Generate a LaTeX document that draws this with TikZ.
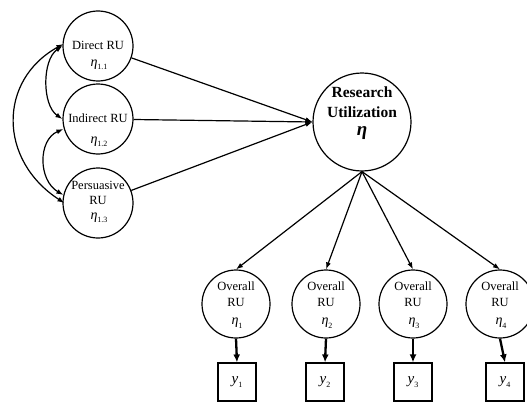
\documentclass[tikz,border=0pt]{standalone}
\usepackage{fontspec}
\setmainfont{Liberation Serif}
\usetikzlibrary{arrows.meta,calc}
% italic eta with a small subscript, set in the text font
\newcommand{\etasub}[1]{{\itshape η}\raisebox{-0.25em}{\fontsize{8}{8}\selectfont #1}}
\begin{document}
\begin{tikzpicture}[x=1pt,y=-1pt,
  lat/.style={draw,circle,line width=1.2pt,minimum size=70pt,inner sep=0pt},
  bigLat/.style={draw,circle,line width=1.2pt,minimum size=98pt,inner sep=0pt},
  obs/.style={draw,rectangle,line width=1.2pt,minimum width=38pt,minimum height=38pt,inner sep=0pt},
  lbl/.style={font=\fontsize{12.5}{12.5}\selectfont,inner sep=0pt},
  elbl/.style={font=\fontsize{14}{14}\selectfont,inner sep=0pt},
  blbl/.style={font=\fontsize{15.5}{15.5}\selectfont\bfseries,inner sep=0pt},
  path/.style={line width=1.2pt,-{Latex[length=7pt,width=5pt]}},
  cov/.style={line width=1.2pt,{Latex[length=7pt,width=5pt]}-{Latex[length=7pt,width=5pt]}},
  load/.style={line width=2.3pt,-{Latex[length=8pt,width=7pt]}}]
\useasboundingbox (0,0) rectangle (527,404);

% first-order factors on the left
\node[lat] (d) at (98,46) {};
\node[lat] (i) at (98,119) {};
\node[lat] (p) at (98,203) {};
\node[lbl] (dt) at (98,45) {Direct RU};
\node[elbl] (de) at (99,65) {\etasub{1.1}};
\node[lbl] (it) at (98,118) {Indirect RU};
\node[elbl] (ie) at (99,142) {\etasub{1.2}};
\node[lbl] (pt1) at (98,185) {Persuasive};
\node[lbl] (pt2) at (98,200) {RU};
\node[elbl] (pe) at (99,218) {\etasub{1.3}};

% second-order factor
\node[bigLat] (r) at (362,122) {};
\node[blbl] (rt1) at (362,92) {Research};
\node[blbl] (rt2) at (362,112) {Utilization};
\node[font=\fontsize{19}{19}\selectfont\bfseries\itshape,inner sep=0pt] (re) at (362,133) {η};

% overall RU factors and indicators
\foreach \n/\x/\bx in {1/236/237, 2/326/325, 3/413/413, 4/500/505} {
  \node[lat,minimum size=68pt] (o\n) at (\x,304) {};
  \node[lbl] (ot\n) at (\x,286) {Overall};
  \node[lbl] (ou\n) at (\x,302) {RU};
  \node[elbl] (oe\n) at (\x+1,323) {\etasub{\n}};
  \node[obs] (y\n) at (\bx,382) {\fontsize{15}{15}\selectfont\itshape y\raisebox{-0.25em}{\upshape\fontsize{8}{8}\selectfont\n}};
}

% paths into the second-order factor
\draw[path] (d) -- (r.west);
\draw[path] (i) -- (r.west);
\draw[path] (p) -- (r.west);

% paths out of the second-order factor
\foreach \n in {1,2,3,4} {
  \draw[path] (r.south) -- (o\n.north);
  \draw[load] (o\n.south) -- (y\n.north);
}

% correlations among the first-order factors
\draw[cov] (d.west) .. controls (42,60) and (42,105) .. (i.west);
\draw[cov] ($(i.west)+(1,10)$) .. controls (38,140) and (38,180) .. ($(p.west)+(1,-8)$);
\draw[cov] ($(d.west)+(1,-2)$) .. controls (-2,80) and (-2,160) .. ($(p.west)+(2,0)$);
\end{tikzpicture}
\end{document}
